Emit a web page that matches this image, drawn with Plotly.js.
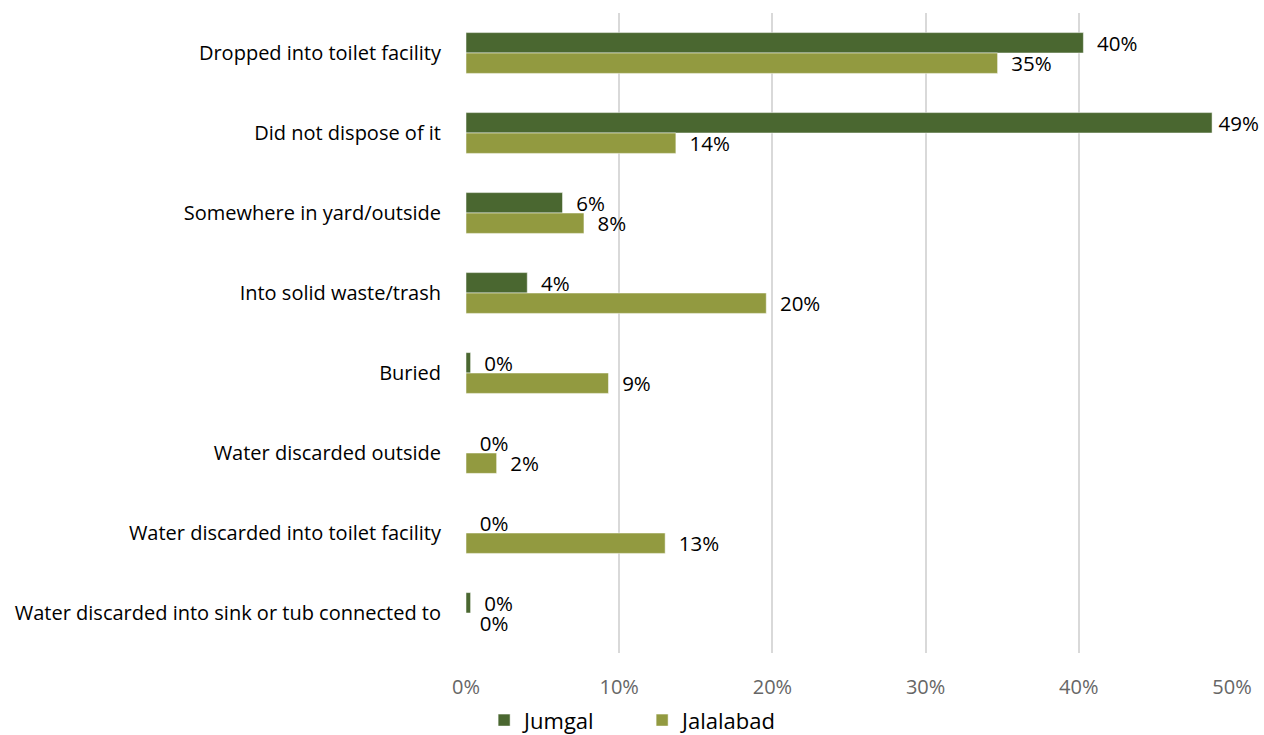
<!DOCTYPE html>
<html>
<head>
<meta charset="utf-8">
<script src="https://cdn.plot.ly/plotly-3.0.1.min.js"></script>
<style>html,body{margin:0;padding:0;background:#fff;}#chart{width:1264px;height:735px;}</style>
</head>
<body>
<div id="chart"></div>
<script>
const categories = [
  "Dropped into toilet facility",
  "Did not dispose of it",
  "Somewhere in yard/outside",
  "Into solid waste/trash",
  "Buried",
  "Water discarded outside",
  "Water discarded into toilet facility",
  "Water discarded into sink or tub connected to"
];
const jumgal = [0.403, 0.487, 0.063, 0.040, 0.003, 0, 0, 0.003];
const jalalabad = [0.347, 0.137, 0.077, 0.196, 0.093, 0.020, 0.130, 0];
const seriesNames = ["Jumgal", "Jalalabad"];
const tickVals = [0, 0.1, 0.2, 0.3, 0.4, 0.5];
const tickText = ["0%", "10%", "20%", "30%", "40%", "50%"];

const font = "'Open Sans', 'Noto Sans', sans-serif";
// labels near the right edge get less padding so they stay inside the page
const pad = v => (v > 0.45 ? "\u2009" : "\u00a0\u00a0");
const mk = (name, vals, color) => ({
  type: "bar", orientation: "h", name: name,
  x: vals, y: categories,
  marker: {color: color, line: {color: "rgba(255,255,255,0.5)", width: 1}},
  text: vals.map(v => pad(v) + Math.round(v * 100) + "%"),
  textposition: "outside",
  constraintext: "none",
  textfont: {family: font, size: 20.5, color: "#000"},
  cliponaxis: false,
  hoverinfo: "x+y"
});
const data = [
  mk(seriesNames[0], jumgal, "#4a6730"),
  mk(seriesNames[1], jalalabad, "#929a40")
];
const layout = {
  width: 1264, height: 735,
  margin: {l: 466, r: 32, t: 13, b: 82, autoexpand: false},
  paper_bgcolor: "#fff", plot_bgcolor: "#fff",
  barmode: "group", bargap: 0.49, bargroupgap: 0,
  font: {family: font, color: "#000"},
  xaxis: {
    range: [0, 0.5], tickvals: tickVals, ticktext: tickText,
    showgrid: true, gridcolor: "#d9d9d9", gridwidth: 2,
    zeroline: false, showline: false,
    tickfont: {family: font, size: 20, color: "#666"},
    ticks: "outside", ticklen: 16, tickcolor: "rgba(0,0,0,0)",
    automargin: false
  },
  yaxis: {
    type: "category", autorange: "reversed",
    showgrid: false, zeroline: false, showline: false,
    tickfont: {family: font, size: 20, color: "#000"},
    ticks: "outside", ticklen: 20, tickcolor: "rgba(0,0,0,0)",
    automargin: false
  },
  showlegend: true,
  legend: {
    orientation: "h", x: 0.508, xref: "container", xanchor: "center",
    y: 0.02, yref: "container", yanchor: "middle",
    font: {family: font, size: 22, color: "#000"},
    itemwidth: 30, entrywidth: 113, entrywidthmode: "pixels",
    traceorder: "normal"
  }
};
Plotly.newPlot("chart", data, layout, {displayModeBar: false, staticPlot: true});
</script>
</body>
</html>
